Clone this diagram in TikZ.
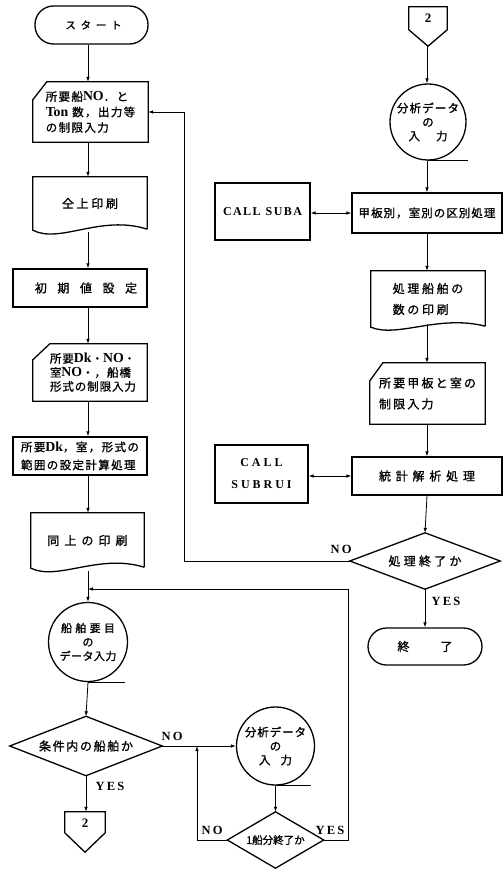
\documentclass[tikz,border=0pt]{standalone}
\usepackage{fontspec}
\setmainfont{Liberation Serif}
\newfontfamily\jp{Noto Sans CJK JP}[FakeBold=1.2]
\newfontfamily\latf{Liberation Serif}[Scale=1.2]
\usetikzlibrary{arrows.meta,calc}
\newcommand\jpf[2]{\jp\fontsize{#1}{#2}\selectfont}
\newcommand\latn[1]{{\latf\bfseries #1}}
\newcommand\ls[1]{\addfontfeature{LetterSpace=#1}}
\newcommand\docshape[2]{\draw[ln] ($(#1.south east)+(0,-1)$) -- (#1.north east) -- (#1.north west) -- (#1.south west) .. controls ($(#1.south west)+(27,#2)$) and ($(#1.south west)+(68,-#2-2)$) .. ($(#1.south east)+(0,-1)$);}
\newcommand\manshape[3]{\draw[ln] (#1.south west) -- ($(#1.north west)+(0,#3)$) -- ($(#1.north west)+(#2,0)$) -- (#1.north east) -- (#1.south east) -- cycle;}
\newcommand\offshape[2]{\draw[ln] (#1.north west) -- (#1.north east) -- ($(#1.north east)+(0,#2)$) -- (#1.south) -- ($(#1.north west)+(0,#2)$) -- cycle;}
\newcommand\diashape[1]{\draw[ln] (#1.north) -- (#1.east) -- (#1.south) -- (#1.west) -- cycle;}
\tikzset{
  ln/.style={line width=1.3pt, line join=miter},
  proc/.style={draw, ln, rectangle, inner sep=0pt, align=center},
  ghost/.style={rectangle, inner sep=0pt, align=left},
  term/.style={draw, ln, rectangle, rounded corners=18.5pt, inner sep=0pt},
  disk/.style={draw, ln, circle, inner sep=0pt},
  conn/.style={line width=0.8pt},
  arr/.style={conn, -{Latex[length=5pt,width=3.6pt]}},
  darr/.style={conn, {Latex[length=5pt,width=3.6pt]}-{Latex[length=5pt,width=3.6pt]}},
  lab/.style={inner sep=0pt, font=\rmfamily\bfseries\fontsize{12.5}{14}\selectfont\addfontfeature{LetterSpace=18}},
  num/.style={inner sep=0pt, font=\rmfamily\bfseries\fontsize{13}{15}\selectfont}
}
\begin{document}
\begin{tikzpicture}[x=1pt,y=-1pt]
\useasboundingbox (0,0) rectangle (503,869);
\coordinate (colL) at (88,0);
\coordinate (colR) at (427,0);
\coordinate (fbx) at (184,0);
\coordinate (jn) at (197,0);
\coordinate (loop) at (348,589);

% ---------- left column ----------
\node[term, minimum width=113pt, minimum height=38pt, font={\jpf{10.5}{12}\ls{45}}] (start) at (91.5,25) {\hspace*{4pt}スタート};

\node[ghost, minimum width=115pt, minimum height=60pt, font={\jpf{11.5}{15.5}\ls{12}}] (in1) at (90.5,112) {所要船\latn{NO}．と\\\latn{Ton} 数，出力等\\の制限入力};
\manshape{in1}{14}{18}

\node[ghost, minimum width=114pt, minimum height=53pt, font={\jpf{12}{14}\ls{22}}] (doc1) at (90,203.5) {仝上印刷};
\docshape{doc1}{14}

\node[proc, minimum width=134pt, minimum height=38pt, font={\jpf{12}{14}\ls{88}}] (proc1) at (80,288) {\hspace*{12pt}初期値設定};

\node[ghost, minimum width=114pt, minimum height=57pt, font={\jpf{11.5}{14}\ls{8}}] (in2) at (90,372.5) {\hspace*{6pt}所要\latn{Dk}・\latn{NO}・\\\hspace*{6pt}室\latn{NO}・，船橋\\\hspace*{6pt}形式の制限入力};
\manshape{in2}{17}{16}

\node[proc, minimum width=134pt, minimum height=38pt, align=left, font={\jpf{11.5}{18}\ls{12}}] (proc2) at (80,456) {所要\latn{Dk}，室，形式の\\範囲の設定計算処理};

\node[ghost, minimum width=113pt, minimum height=55pt, font={\jpf{12}{14}\ls{42}}] (doc2) at (87.5,540.5) {同上の印刷};
\docshape{doc2}{13}

\node[disk, minimum size=79pt] (c1) at (88,642) {};
\node[align=center, inner sep=0pt, font={\jpf{11}{14}}] (c1t) at (c1) {{\ls{30}船舶要目}\\の\\{\ls{4}データ入力}};
\draw[ln] (c1.south) -- ++(37,0);

\node[ghost, minimum width=152pt, minimum height=59pt, font={\jpf{12}{14}\ls{14}}] (dec1) at (86,746) {条件内の船舶か};
\diashape{dec1}

\node[ghost, minimum width=40pt, minimum height=40pt] (off2b) at (85,832) {};
\offshape{off2b}{21}
\node[num] (off2bt) at ($(off2b.north)+(0,11)$) {2};

% ---------- middle loop ----------
\node[disk, minimum size=78pt] (c2) at (275.5,746) {};
\node[align=center, inner sep=0pt, font={\jpf{11.5}{14}}] (c2t) at (c2) {{\ls{8}分析データ}\\の\\入\hspace{10pt}力};
\draw[ln] (c2.south) -- ++(35,0);

\node[ghost, minimum width=96pt, minimum height=56pt, font={\jpf{10.5}{12}}] (dec2) at (275.5,840) {1船分終了か};
\diashape{dec2}

% ---------- right column ----------
\node[ghost, minimum width=38pt, minimum height=39pt] (off2t) at (428,26.5) {};
\offshape{off2t}{23}
\node[num] (off2tt) at ($(off2t.north)+(0,11)$) {2};

\node[disk, minimum size=76pt] (c3) at (428,122) {};
\node[align=center, inner sep=0pt, font={\jpf{11.5}{14}}] (c3t) at (c3) {{\ls{10}分析データ}\\の\\入\hspace{16pt}力};
\draw[ln] (c3.south) -- ++(40,0);

\node[proc, minimum width=150pt, minimum height=40pt, font={\jpf{11.5}{14}\ls{9}}] (proc3) at (427,213) {甲板別，室別の区別処理};

\node[proc, minimum width=95pt, minimum height=57pt, font={\rmfamily\bfseries\fontsize{12}{14}\selectfont\addfontfeature{LetterSpace=12}}] (suba) at (262.5,211.5) {CALL\hspace{5pt}SUBA};

\node[ghost, minimum width=114pt, minimum height=56pt, font={\jpf{12}{21}\ls{22}}] (doc3) at (428,299) {処理船舶の\\数の印刷};
\docshape{doc3}{11}

\node[ghost, minimum width=115pt, minimum height=61pt, font={\jpf{12}{21}\ls{18}}] (in3) at (427.5,393.5) {所要甲板と室の\\制限入力};
\manshape{in3}{13}{18}

\node[proc, minimum width=150pt, minimum height=38pt, font={\jpf{12}{14}\ls{40}}] (proc4) at (427,476) {統計解析処理};

\node[proc, minimum width=93pt, minimum height=58pt, font={\rmfamily\bfseries\fontsize{12}{22}\selectfont\addfontfeature{LetterSpace=25}}] (subrui) at (261.5,474) {CALL\\SUBRUI};

\node[ghost, minimum width=150pt, minimum height=56pt, font={\jpf{12}{14}\ls{27}}] (dec3) at (425,561) {処理終了か};
\diashape{dec3}

\node[term, minimum width=114pt, minimum height=37pt, font={\jpf{12}{14}}] (endt) at (425,646.5) {終\hspace{31pt}了};

% ---------- labels ----------
\node[lab] (noA) at (172,736) {NO};
\node[lab] (yesA) at (110,786) {YES};
\node[lab] (noB) at (212,830) {NO};
\node[lab] (yesB) at (330,830) {YES};
\node[lab] (noC) at (341,549) {NO};
\node[lab] (yesC) at (446,601) {YES};

% ---------- connectors ----------
\draw[arr] (start.south -| colL) -- (in1.north -| colL);
\draw[arr] (in1.south -| colL) -- (doc1.north -| colL);
\draw[arr] ($(doc1.south -| colL)+(0,2)$) -- (proc1.north -| colL);
\draw[arr] (proc1.south -| colL) -- (in2.north -| colL);
\draw[arr] (in2.south -| colL) -- (proc2.north -| colL);
\draw[arr] (proc2.south -| colL) -- (doc2.north -| colL);
\draw[arr] ($(doc2.south -| colL)+(0,3)$) -- (c1.north -| colL);
\draw[arr] (c1.south -| colL) -- (dec1.north);
\draw[arr] (dec1.south) -- (dec1.south |- off2b.north);
\draw[arr] (dec1.east) -- (c2.west);
\draw[arr] (c2.south) -- (dec2.north);
\draw[arr] (dec2.west) -- (dec2.west -| jn) -- (dec1.east -| jn);
\draw[arr] (dec2.east) -- (dec2.east -| loop) -- (loop) -- (loop -| colL);

\draw[arr] (off2t.south -| colR) -- (c3.north -| colR);
\draw[arr] (c3.south -| colR) -- (proc3.north -| colR);
\draw[darr] (suba.east |- proc3.west) -- (proc3.west);
\draw[arr] (proc3.south -| colR) -- (doc3.north -| colR);
\draw[arr] ($(doc3.south -| colR)+(0,-3)$) -- (in3.north -| colR);
\draw[arr] (in3.south -| colR) -- (proc4.north -| colR);
\draw[darr] (subrui.east |- proc4.west) -- (proc4.west);
\draw[arr] (proc4.south -| colR) -- (dec3.north);
\draw[arr] (dec3.south) -- (endt.north);
\draw[arr] (dec3.west) -- (dec3.west -| fbx) -- (in1.east -| fbx) -- (in1.east);
\end{tikzpicture}
\end{document}
